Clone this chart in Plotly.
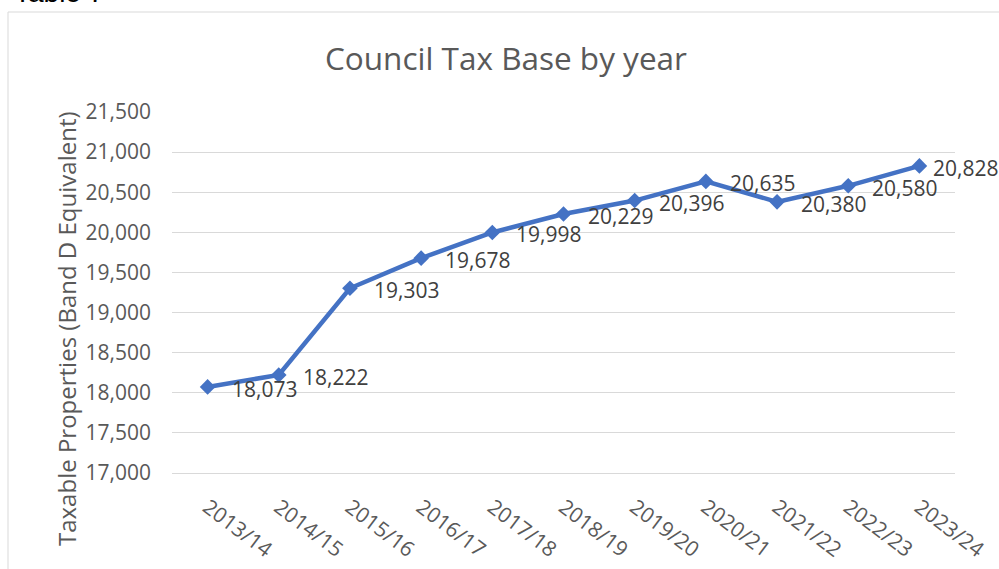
import plotly.graph_objects as go

years = ["2013/14", "2014/15", "2015/16", "2016/17", "2017/18", "2018/19",
         "2019/20", "2020/21", "2021/22", "2022/23", "2023/24"]
tax_base = [18073, 18222, 19303, 19678, 19998, 20229, 20396, 20635, 20380, 20580, 20828]
y_ticks = [17000, 17500, 18000, 18500, 19000, 19500, 20000, 20500, 21000, 21500]
label_shift = [22, 22, 22, 22, 22, 22, 22, 22, 22, 22, 12]

W, H = 999, 569
FONT = "Open Sans"
GREY = "#595959"


def px(x):
    return x / W


def py(y):
    return 1 - y / H


fig = go.Figure()
fig.add_trace(go.Scatter(
    x=list(range(len(years))), y=tax_base, mode="lines+markers",
    line=dict(color="#4472C4", width=4.5),
    marker=dict(symbol="diamond", size=12, color="#4472C4"),
    hoverinfo="skip", showlegend=False,
))

annotations = []
for i, v in enumerate(tax_base):
    annotations.append(dict(
        x=i, y=v, xref="x", yref="y", text=f"{v:,}", showarrow=False,
        xanchor="left", yanchor="middle", xshift=label_shift[i], yshift=-2,
        font=dict(family=FONT, size=21, color="#404040"),
    ))

annotations += [
    dict(text="Council Tax Base by year", x=px(506), y=py(57), xref="paper", yref="paper",
         showarrow=False, xanchor="center", yanchor="middle",
         font=dict(family=FONT, size=31.5, color=GREY)),
    dict(text="Taxable Properties (Band D Equivalent)", x=px(66), y=py(329),
         xref="paper", yref="paper", showarrow=False, textangle=-90,
         xanchor="center", yanchor="middle",
         font=dict(family=FONT, size=24, color=GREY)),
    dict(text="Table 7", x=px(12), y=py(-7.5), xref="paper", yref="paper",
         showarrow=False, xanchor="left", yanchor="middle",
         font=dict(family="Liberation Sans", size=28, color="#000000")),
]

fig.update_layout(
    width=W, height=H,
    margin=dict(l=0, r=0, t=0, b=0),
    paper_bgcolor="white", plot_bgcolor="white",
    annotations=annotations,
    shapes=[dict(type="rect", xref="paper", yref="paper",
                 x0=px(8), y0=-0.05, x1=1.05, y1=py(12),
                 line=dict(color="#D9D9D9", width=1), layer="below")],
    xaxis=dict(
        domain=[px(172), px(955)], range=[-0.5, len(years) - 0.5],
        tickmode="array", tickvals=list(range(len(years))), ticktext=years,
        tickangle=37, showgrid=False, zeroline=False,
        showline=True, linecolor="#D9D9D9", linewidth=1, ticks="",
        ticklabelstandoff=13,
        tickfont=dict(family=FONT, size=21, color=GREY), automargin=False,
    ),
    yaxis=dict(
        domain=[py(473), py(112)], range=[17000, 21500],
        tickmode="array", tickvals=y_ticks, ticktext=[f"{t:,}" for t in y_ticks],
        showgrid=True, gridcolor="#D9D9D9", gridwidth=1, zeroline=False,
        showline=False, ticks="", ticklabelstandoff=20,
        tickfont=dict(family=FONT, size=21, color=GREY), automargin=False,
    ),
)

fig.write_html(
    "out.html",
    config={"displayModeBar": False},
    post_script="document.body.style.margin='0';document.body.style.overflow='hidden';",
)
